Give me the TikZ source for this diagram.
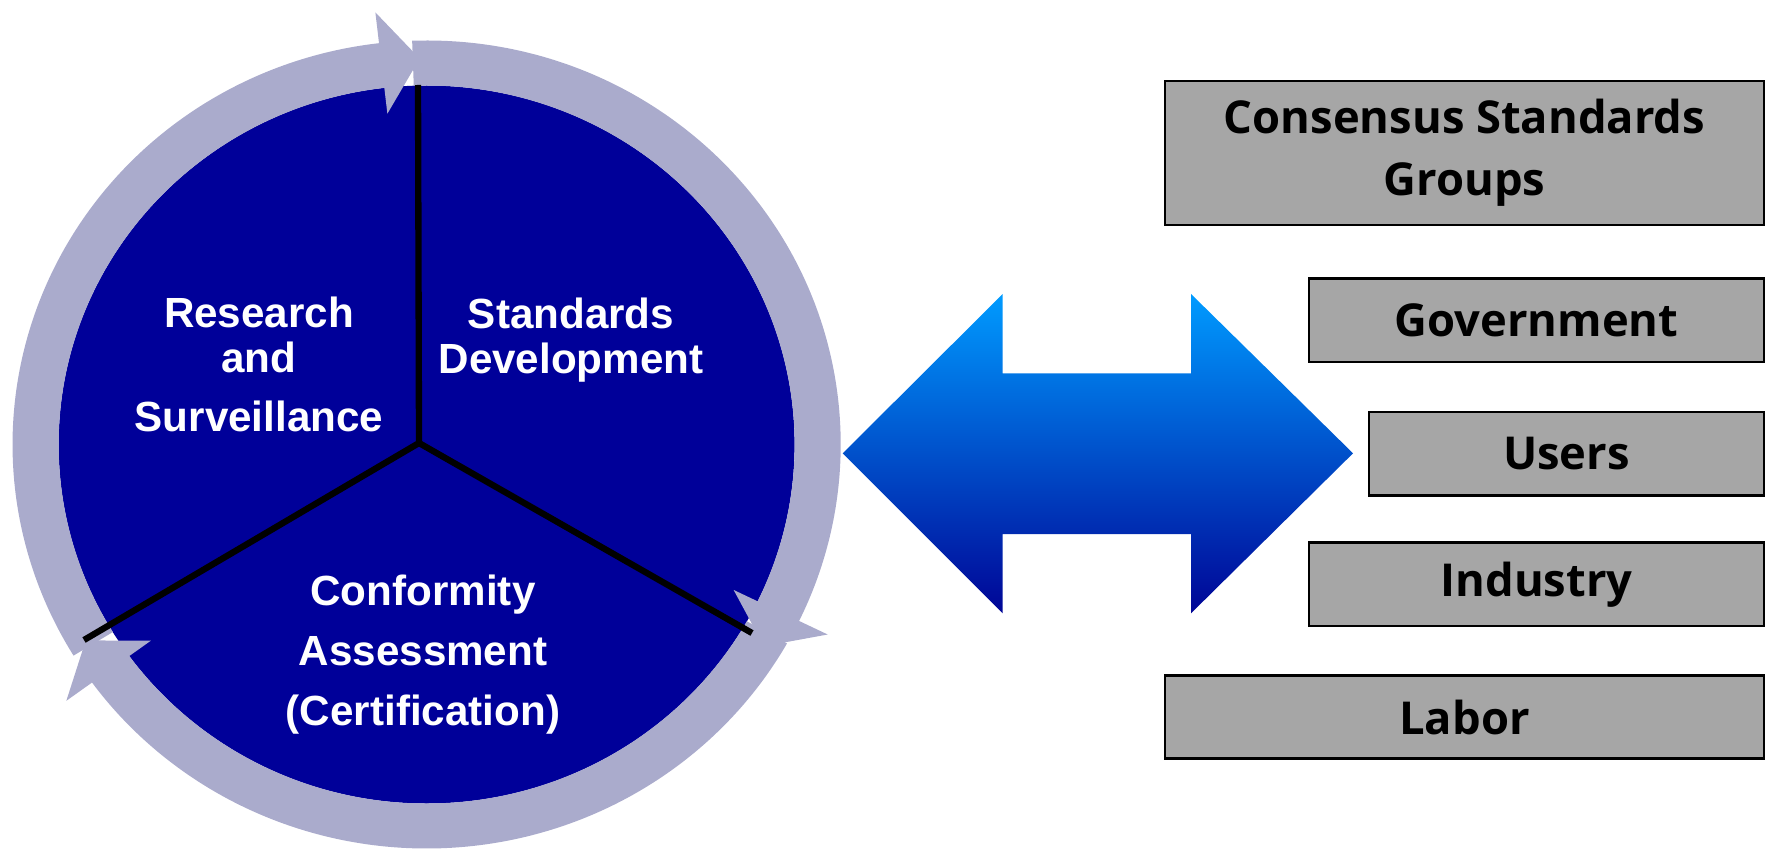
\documentclass[tikz,border=0pt]{standalone}
\usepackage{fontspec}
\setmainfont{Liberation Sans}
\newfontfamily\grpfont{Open Sans}
\usepackage{tikz}
\definecolor{pieblue}{RGB}{0,0,153}
\definecolor{ringgray}{RGB}{170,171,204}
\definecolor{boxgray}{RGB}{166,166,166}
\definecolor{arrtop}{RGB}{0,155,255}
\definecolor{arrmid}{RGB}{0,112,215}
\definecolor{arrbot}{RGB}{0,5,150}
\tikzset{
    pielabel/.style={text=white, align=center,
    	font=\bfseries\fontsize{12}{12.8}\selectfont},
    grpbox/.style={rectangle, draw=black, line width=0.8pt, fill=boxgray,
    	minimum height=0.833cm, inner sep=0pt, align=center,
    	font=\grpfont\bfseries\fontsize{12.9}{17.6}\selectfont}
}

\begin{document}
\begin{tikzpicture}
  \useasboundingbox (0,0) rectangle (17.65,8.51);

  \coordinate (c) at (4.266,4.065);
  \coordinate (hub) at (4.19,4.08);
  \coordinate (top) at (4.18,7.66);
  \coordinate (rgt) at (7.52,2.18);
  \coordinate (lft) at (0.84,2.11);

  \begin{scope}[shift={(c)}, xscale=1.025]
    \fill[pieblue] (0,0) circle (3.59);
    \foreach \s/\t in {211.5/91, 92/-31.5, -29.5/-149.5} {
      \pgfmathsetmacro\b{\t+5.6}
      \fill[ringgray] (\s:4.04) arc[start angle=\s, end angle=\b, radius=4.04]
        -- (\b:4.35) -- (\t:3.86) -- (\b:3.33) -- (\b:3.59)
        arc[start angle=\b, end angle=\s, radius=3.59] -- cycle;
    }
  \end{scope}

  \draw[line width=1.8pt] (hub) -- (top) (hub) -- (rgt) (hub) -- (lft);

  \node (rs) [pielabel] at (2.59,4.87) {Research\\and\\[4pt]Surveillance};
  \node (sd) [pielabel] at (5.71,5.11) {Standards\\Development};
  \node (ca) [pielabel, font=\bfseries\fontsize{12}{17}\selectfont]
    at (4.23,1.965) {Conformity\\Assessment\\(Certification)};

  \shade[top color=arrtop, middle color=arrmid, bottom color=arrbot]
    (8.427,3.977) -- (10.027,5.57) -- (10.027,4.777) -- (11.91,4.777)
    -- (11.91,5.57) -- (13.53,3.977) -- (11.91,2.377) -- (11.91,3.17)
    -- (10.027,3.17) -- (10.027,2.377) -- cycle;

  \node (csg) [grpbox, minimum width=5.99cm, minimum height=1.44cm]
    at (14.645,6.98) {Consensus Standards\\Groups};
  \node (gov) [grpbox, minimum width=4.55cm] at (15.365,5.307) {Government};
  \node (usr) [grpbox, minimum width=3.95cm] at (15.665,3.973) {Users};
  \node (ind) [grpbox, minimum width=4.55cm] at (15.365,2.667) {Industry};
  \node (lab) [grpbox, minimum width=5.99cm] at (14.645,1.34) {Labor};
\end{tikzpicture}
\end{document}
